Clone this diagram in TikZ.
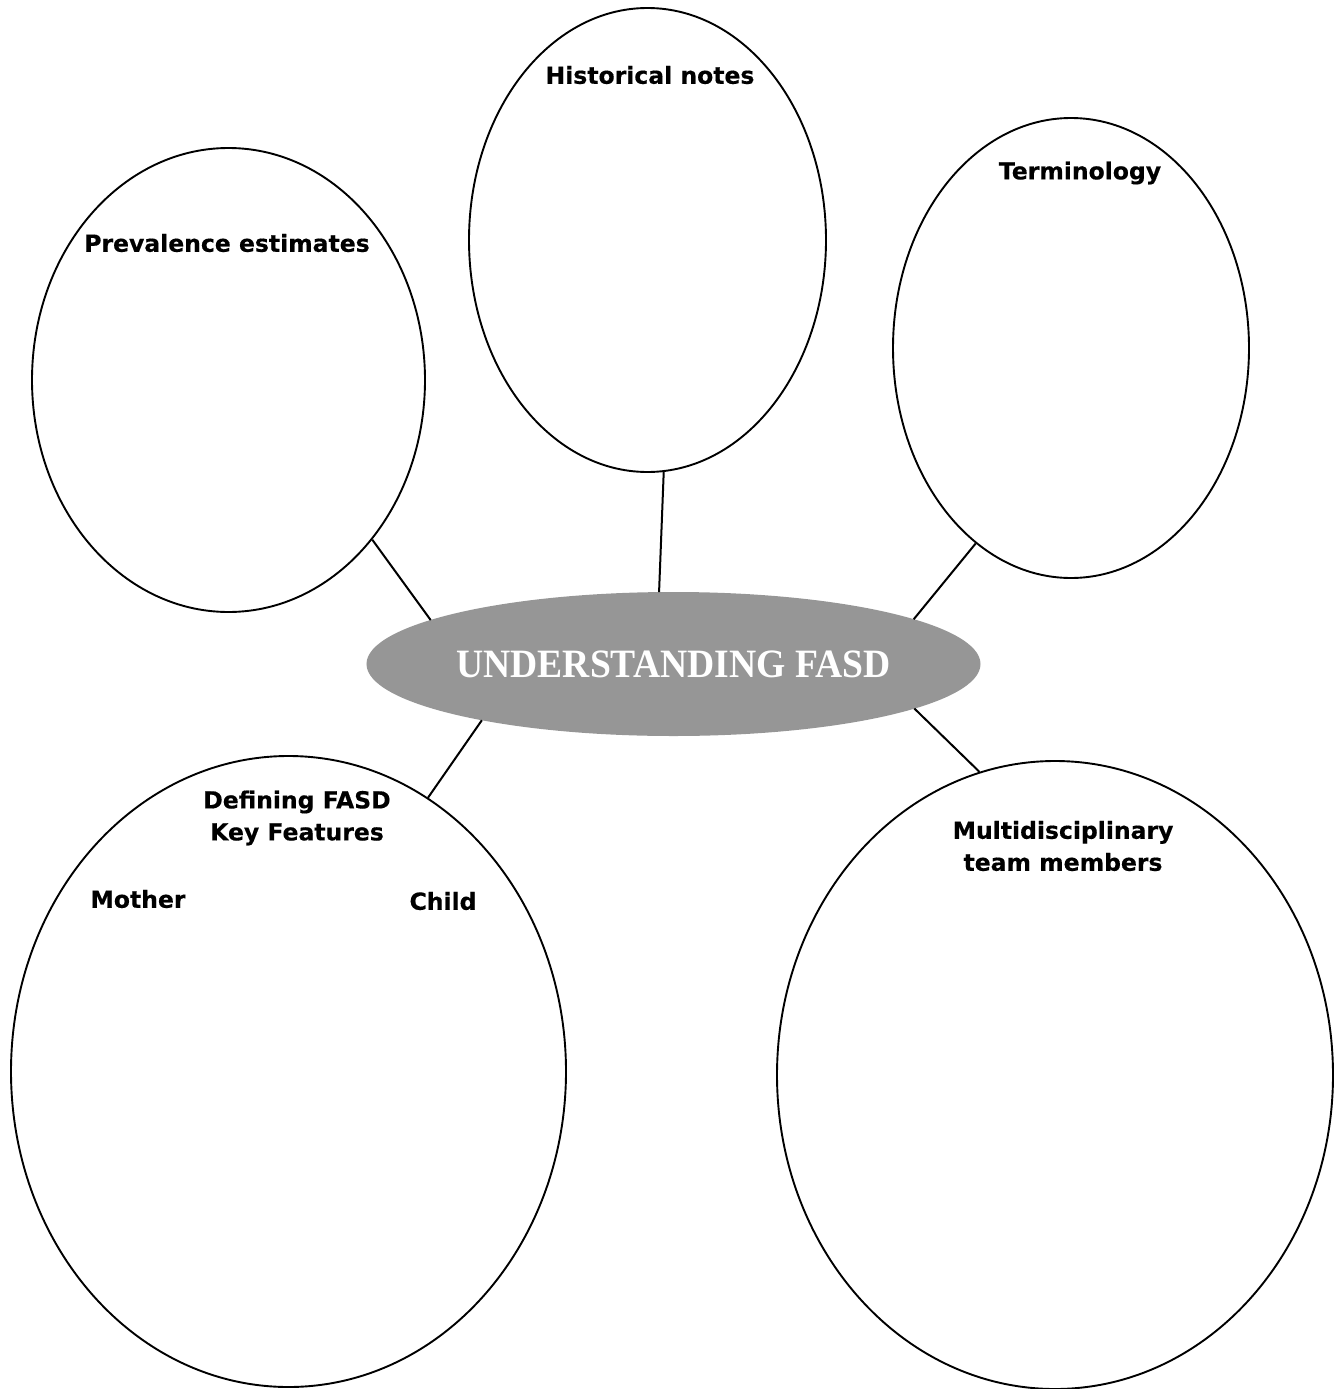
\documentclass[tikz,border=0pt]{standalone}
\usepackage{fontspec}
\usepackage{xcolor}
\usetikzlibrary{shapes.geometric}
\newfontfamily\bubblefont[BoldFeatures={FakeBold=0.4}]{DejaVu Sans}
\newfontfamily\hubfont{Liberation Serif}
\definecolor{ink}{HTML}{000000}
\definecolor{hubgray}{HTML}{969696}
\tikzset{
  bubble/.style={ellipse,draw=ink,line width=1.9pt,fill=white,inner sep=0pt},
  hub/.style={ellipse,fill=hubgray,inner sep=0pt,text=white,font=\hubfont\bfseries\fontsize{37.6}{40}\selectfont},
  tag/.style={font=\bubblefont\bfseries\fontsize{23.5}{32}\selectfont,align=center,text=ink,inner sep=0pt},
  spoke/.style={draw=ink,line width=2pt},
}
\begin{document}
\begin{tikzpicture}[x=1pt,y=1pt]
  \useasboundingbox (0,0) rectangle (1340,-1389);

  % outer bubbles
  \node[bubble,minimum width=393pt,minimum height=464pt] (prev) at (228.5,-380) {};
  \node[bubble,minimum width=357pt,minimum height=464pt] (hist) at (647.5,-240) {};
  \node[bubble,minimum width=356pt,minimum height=460pt] (term) at (1071,-348) {};
  \node[bubble,minimum width=555pt,minimum height=631pt] (defn) at (288.5,-1071.5) {};
  \node[bubble,minimum width=556pt,minimum height=628pt] (team) at (1055,-1075) {};

  % centre
  \node[hub,minimum width=613pt,minimum height=144pt] (core) at (673.5,-664)
    {\scalebox{1}[1.07]{UNDERSTANDING FASD}};

  % where the spokes meet the hub
  \path (core.center) ++(142.4:306.5 and 72) coordinate (hub-prev);
  \path (core.center) ++(92.7:306.5 and 72) coordinate (hub-hist);
  \path (core.center) ++(38.4:306.5 and 72) coordinate (hub-term);
  \path (core.center) ++(231.3:306.5 and 72) coordinate (hub-defn);
  \path (core.center) ++(-38.2:306.5 and 72) coordinate (hub-team);

  % spokes
  \draw[spoke] (prev.-48.1) -- (hub-prev);
  \draw[spoke] (hist.-86.2) -- (hub-hist);
  \draw[spoke] (term.-116.1) -- (hub-term);
  \draw[spoke] (defn.63.4) -- (hub-defn);
  \draw[spoke] (team.104.6) -- (hub-team);

  % bubble titles
  \node[tag] (prevtag) at (227,-243) {Prevalence estimates};
  \node[tag] (histtag) at (650,-75) {Historical notes};
  \node[tag] (termtag) at (1080,-173) {Terminology};
  \node[tag] (defntag) at (297,-818) {Defining FASD\\Key Features};
  \node[tag] (mothertag) at (138,-899) {Mother};
  \node[tag] (childtag) at (443,-901) {Child};
  \node[tag] (teamtag) at (1063,-846) {Multidisciplinary\\team members};
\end{tikzpicture}
\end{document}
